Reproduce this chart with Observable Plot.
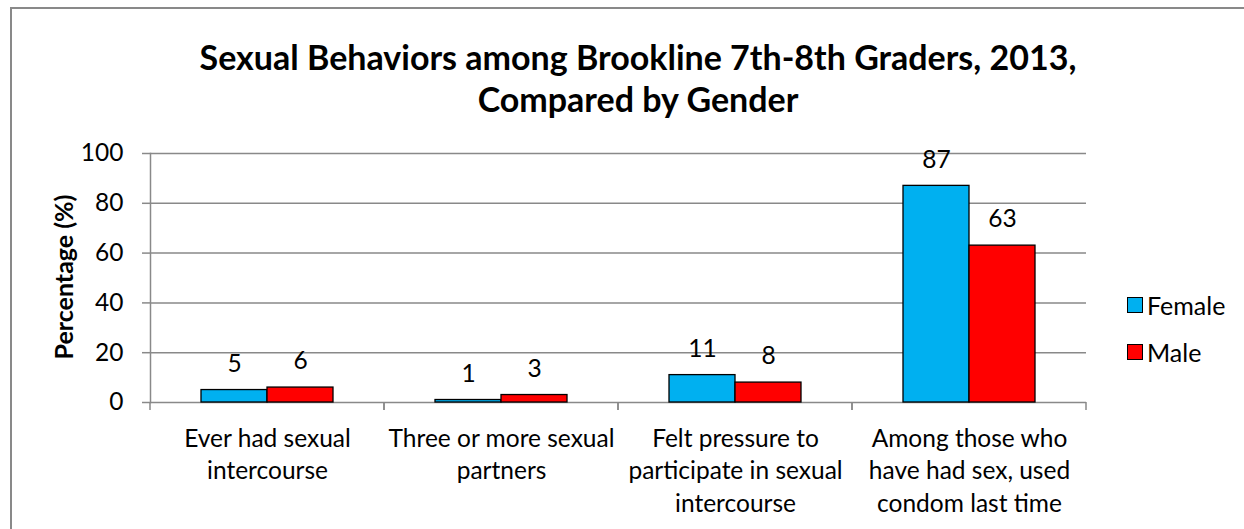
<!DOCTYPE html>
<html><head><meta charset="utf-8">
<script src="https://cdn.jsdelivr.net/npm/d3@7"></script>
<script src="https://cdn.jsdelivr.net/npm/@observablehq/plot@0.6"></script>
<style>
body{margin:0;background:#fff;font-family:Lato,"Open Sans",sans-serif;color:#000;}
#wrap{position:relative;width:1244px;height:529px;overflow:hidden;background:#fff;}
#border{position:absolute;left:10px;top:7px;width:1400px;height:700px;border-left:2px solid #898989;border-top:2px solid #898989;}
#title{position:absolute;left:0;top:36px;width:1276px;text-align:center;font-weight:bold;font-size:34px;line-height:42px;}
#ylabel{position:absolute;left:-87px;top:262px;width:300px;height:30px;line-height:30px;text-align:center;font-weight:bold;font-size:25px;transform:rotate(-90deg);transform-origin:150px 15px;}
#chart{position:absolute;left:0;top:130px;}
#legend{position:absolute;left:1127px;top:297px;font-size:25px;}
.item{position:absolute;left:0;height:16px;white-space:nowrap;}
.sw{position:absolute;left:0;top:0;width:14px;height:14px;border:1px solid #000;}
.lab{position:absolute;left:20px;top:-7px;line-height:30px;}
</style></head>
<body>
<div id="wrap">
  <div id="border"></div>
  <div id="title"></div>
  <div id="chart"></div>
  <div id="ylabel"></div>
  <div id="legend"></div>
</div>
<script>
const titleLines = ["Sexual Behaviors among Brookline 7th-8th Graders, 2013,", "Compared by Gender"];
const categories = ["Ever had sexual intercourse", "Three or more sexual partners", "Felt pressure to participate in sexual intercourse", "Among those who have had sex, used condom last time"];
const categoryLabels = ["Ever had sexual\nintercourse", "Three or more sexual\npartners", "Felt pressure to\nparticipate in sexual\nintercourse", "Among those who\nhave had sex, used\ncondom last time"];
const genders = ["Female", "Male"];
const femaleValues = [5, 1, 11, 87];
const maleValues = [6, 3, 8, 63];
const yTicks = [0, 20, 40, 60, 80, 100];
const colors = ["#00B0F0", "#FF0000"];
const yLabel = "Percentage (%)";

document.getElementById("title").innerHTML = titleLines.join("<br>");
document.getElementById("ylabel").textContent = yLabel;

const data = categories.flatMap((c, i) => [
  {category: c, gender: genders[0], value: femaleValues[i]},
  {category: c, gender: genders[1], value: maleValues[i]}
]);

const grid = "#898989";
const fs = 24.5;

function boundaryTicks(index, scales, values, dims) {
  const g = d3.create("svg:g").attr("stroke", grid).attr("stroke-width", 1.5);
  const [x0, x1] = scales.x.range();
  const y0 = scales.y(0);
  for (const xv of [x0, x1]) {
    g.append("line").attr("x1", xv).attr("x2", xv).attr("y1", y0).attr("y2", y0 + 8);
  }
  return g.node();
}

const chart = Plot.plot({
  width: 1244,
  height: 399,
  marginLeft: 150,
  marginRight: 158,
  marginTop: 23,
  marginBottom: 127,
  style: {fontFamily: "Lato, 'Open Sans', sans-serif", fontSize: fs + "px", color: "#000", background: "transparent"},
  fx: {domain: categories, padding: 0, axis: null},
  x: {domain: genders, paddingInner: 0, paddingOuter: 0.75, axis: null},
  y: {domain: [0, 100], axis: null},
  color: {domain: genders, range: colors},
  marks: [
    Plot.ruleY(yTicks, {stroke: grid, strokeWidth: 1.5}),
    Plot.frame({anchor: "left", facetAnchor: "left", stroke: grid, strokeWidth: 1.5}),
    boundaryTicks,
    Plot.axisY({ticks: yTicks, tickSize: 8, tickPadding: 19, stroke: grid, strokeWidth: 1.5, fill: "#000", fontSize: fs, label: null}),
    Plot.barY(data, {fx: "category", x: "gender", y: "value", fill: "gender", stroke: "#000", strokeWidth: 1.3}),
    Plot.text(data, {fx: "category", x: "gender", y: "value", text: d => String(d.value), dy: -26, fontSize: fs, fill: "#000"}),
    Plot.text(categories, {fx: d => d, text: (d, i) => categoryLabels[i], frameAnchor: "bottom", lineAnchor: "top", dy: 21, lineHeight: 1.33, fontSize: fs, fill: "#000"})
  ]
});
document.getElementById("chart").appendChild(chart);

const legend = document.getElementById("legend");
genders.forEach((gname, i) => {
  const item = document.createElement("div");
  item.className = "item";
  item.style.top = (i * 47) + "px";
  item.innerHTML = `<div class="sw" style="background:${colors[i]}"></div><div class="lab">${gname}</div>`;
  legend.appendChild(item);
});
</script>
</body></html>
